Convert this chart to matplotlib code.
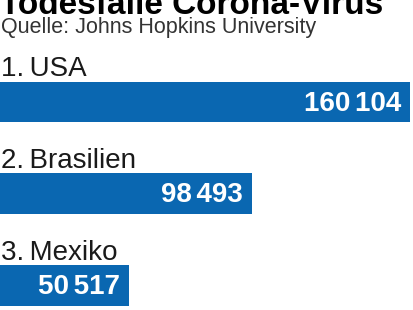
import matplotlib
matplotlib.use("Agg")
import matplotlib.pyplot as plt

title = "Todesfälle Corona-Virus"
subtitle = "Quelle: Johns Hopkins University"
countries = ["1.\u2009USA", "2.\u2009Brasilien", "3.\u2009Mexiko"]
values = [160104, 98493, 50517]
value_labels = ["160\u2006104", "98\u2006493", "50\u2006517"]

W, H = 414, 310
BAR_COLOR = "#0a67b1"
FAM = ["Liberation Sans", "DejaVu Sans"]

fig = plt.figure(figsize=(W / 100, H / 100), dpi=100)
fig.patch.set_facecolor("white")
ax = fig.add_axes([0, 0, 1, 1])
ax.set_xlim(0, max(values) * W / 410)
ax.set_ylim(H, 0)
ax.axis("off")

centers = [102, 193.5, 285.5]
ax.barh(centers, values, height=40.5, color=BAR_COLOR, linewidth=0)

for c, name, v, lab in zip(centers, countries, values, value_labels):
    ax.annotate(name, xy=(0, c), xytext=(1, 26), textcoords="offset pixels",
                ha="left", va="baseline", fontsize=20, color="#1a1a1a",
                family=FAM)
    ax.annotate(lab, xy=(v, c), xytext=(-9, -9), textcoords="offset pixels",
                ha="right", va="baseline", fontsize=20, fontweight="bold",
                color="white", family=FAM)

fig.text(0 / W, 1 - 14 / H, title, ha="left", va="baseline", fontsize=24,
         fontweight="bold", color="black", family=FAM)
fig.text(1 / W, 1 - 33 / H, subtitle, ha="left", va="baseline", fontsize=15.5,
         color="#333333", family=FAM)

fig.savefig("out.png", dpi=100, facecolor="white")
